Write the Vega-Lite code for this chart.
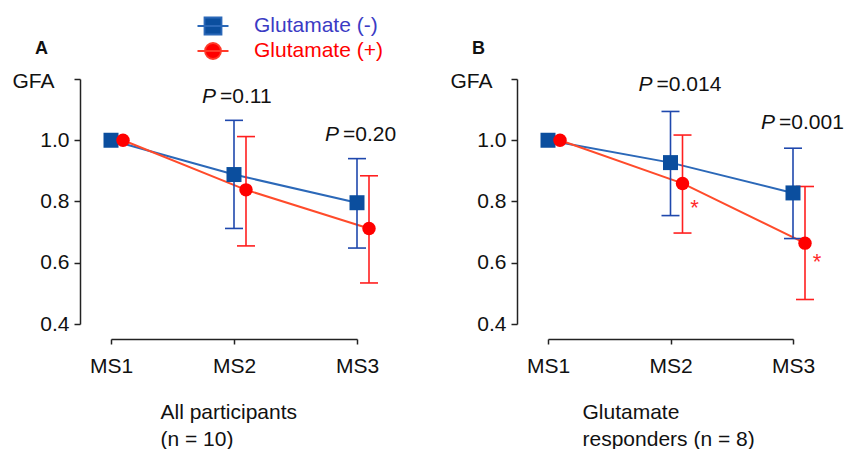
{
  "$schema": "https://vega.github.io/schema/vega-lite/v6.json",
  "background": "white",
  "padding": {"left": 12, "top": 15, "right": 0, "bottom": 0},
  "datasets": {
    "gfa": [
      {"panel": "A", "group": "Glutamate (-)", "ms": "MS1", "mean": 1.0, "lo": null, "hi": null},
      {"panel": "A", "group": "Glutamate (-)", "ms": "MS2", "mean": 0.888, "lo": 0.712, "hi": 1.065},
      {"panel": "A", "group": "Glutamate (-)", "ms": "MS3", "mean": 0.796, "lo": 0.648, "hi": 0.94},
      {"panel": "A", "group": "Glutamate (+)", "ms": "MS1", "mean": 1.0, "lo": null, "hi": null},
      {"panel": "A", "group": "Glutamate (+)", "ms": "MS2", "mean": 0.838, "lo": 0.655, "hi": 1.012},
      {"panel": "A", "group": "Glutamate (+)", "ms": "MS3", "mean": 0.712, "lo": 0.534, "hi": 0.884},
      {"panel": "B", "group": "Glutamate (-)", "ms": "MS1", "mean": 1.0, "lo": null, "hi": null},
      {"panel": "B", "group": "Glutamate (-)", "ms": "MS2", "mean": 0.927, "lo": 0.754, "hi": 1.094},
      {"panel": "B", "group": "Glutamate (-)", "ms": "MS3", "mean": 0.828, "lo": 0.679, "hi": 0.974},
      {"panel": "B", "group": "Glutamate (+)", "ms": "MS1", "mean": 1.0, "lo": null, "hi": null},
      {"panel": "B", "group": "Glutamate (+)", "ms": "MS2", "mean": 0.859, "lo": 0.697, "hi": 1.017},
      {"panel": "B", "group": "Glutamate (+)", "ms": "MS3", "mean": 0.664, "lo": 0.48, "hi": 0.849}
    ],
    "pvals": [
      {"panel": "A", "ms": "MS2", "y": 1.121, "label": "=0.11"},
      {"panel": "A", "ms": "MS3", "y": 0.998, "label": "=0.20"},
      {"panel": "B", "ms": "MS2", "y": 1.161, "label": "=0.014"},
      {"panel": "B", "ms": "MS3", "y": 1.038, "label": "=0.001"}
    ],
    "stars": [
      {"panel": "B", "group": "Glutamate (+)", "ms": "MS2", "y": 0.798},
      {"panel": "B", "group": "Glutamate (+)", "ms": "MS3", "y": 0.623}
    ]
  },
  "bounds": "flush",
  "spacing": 191,
  "resolve": {
    "scale": {"x": "independent", "y": "independent", "fill": "shared"},
    "legend": {"fill": "shared"}
  },
  "hconcat": [
    {
      "width": 246,
      "height": 245,
      "title": {"text": "A"},
      "encoding": {
        "x": {
          "field": "ms", "type": "nominal",
          "scale": {"type": "point", "padding": 0, "domain": ["MS1", "MS2", "MS3"]},
          "axis": {
            "offset": 15, "tickSize": 5, "labelPadding": 11, "labelAngle": 0,
            "title": ["All participants", "(n = 10)"],
            "titleX": 49, "titleY": 79, "titleAlign": "left", "titleBaseline": "alphabetic", "titleLineHeight": 27
          }
        }
      },
      "layer": [
        {
          "data": {"name": "gfa"},
          "transform": [{"filter": "datum.panel === 'A' && datum.group === 'Glutamate (-)'"}],
          "mark": {"type": "line", "strokeWidth": 2, "color": "#2b68b8"},
          "encoding": {
            "y": {
              "field": "mean", "type": "quantitative", "title": "GFA",
              "scale": {"domain": [0.4, 1.2], "nice": false, "zero": false},
              "axis": {
                "offset": 31, "tickSize": 6, "labelPadding": 5,
                "values": [0.4, 0.5, 0.6, 0.7, 0.8, 0.9, 1.0, 1.1, 1.2],
                "labelExpr": "indexof(['0.4','0.6','0.8','1.0'], format(datum.value, '.1f')) >= 0 ? format(datum.value, '.1f') : ''",
                "labelFlush": false, "labelOverlap": false,
                "titleAngle": 0, "titleX": -68, "titleY": 8, "titleAlign": "left", "titleBaseline": "alphabetic"
              }
            }
          }
        },
        {
          "data": {"name": "gfa"},
          "transform": [{"filter": "datum.panel === 'A' && datum.group === 'Glutamate (+)'"}],
          "mark": {"type": "line", "strokeWidth": 2, "color": "#ff4b2b", "xOffset": 12},
          "encoding": {"y": {"field": "mean", "type": "quantitative", "title": "GFA"}}
        },
        {
          "data": {"name": "gfa"},
          "transform": [{"filter": "datum.panel === 'A' && datum.group === 'Glutamate (-)'"}],
          "mark": {"type": "rule", "strokeWidth": 1.6, "color": "#1f48ad"},
          "encoding": {"y": {"field": "lo", "type": "quantitative", "title": "GFA"}, "y2": {"field": "hi"}}
        },
        {
          "data": {"name": "gfa"},
          "transform": [{"filter": "datum.panel === 'A' && datum.group === 'Glutamate (-)'"}],
          "mark": {"type": "tick", "orient": "horizontal", "size": 18, "thickness": 1.6, "opacity": 1, "color": "#1f48ad"},
          "encoding": {"y": {"field": "lo", "type": "quantitative", "title": "GFA"}}
        },
        {
          "data": {"name": "gfa"},
          "transform": [{"filter": "datum.panel === 'A' && datum.group === 'Glutamate (-)'"}],
          "mark": {"type": "tick", "orient": "horizontal", "size": 18, "thickness": 1.6, "opacity": 1, "color": "#1f48ad"},
          "encoding": {"y": {"field": "hi", "type": "quantitative", "title": "GFA"}}
        },
        {
          "data": {"name": "gfa"},
          "transform": [{"filter": "datum.panel === 'A' && datum.group === 'Glutamate (+)'"}],
          "mark": {"type": "rule", "strokeWidth": 1.6, "color": "#ff1f1f", "xOffset": 12},
          "encoding": {"y": {"field": "lo", "type": "quantitative", "title": "GFA"}, "y2": {"field": "hi"}}
        },
        {
          "data": {"name": "gfa"},
          "transform": [{"filter": "datum.panel === 'A' && datum.group === 'Glutamate (+)'"}],
          "mark": {"type": "tick", "orient": "horizontal", "size": 18, "thickness": 1.6, "opacity": 1, "color": "#ff1f1f", "xOffset": 12},
          "encoding": {"y": {"field": "lo", "type": "quantitative", "title": "GFA"}}
        },
        {
          "data": {"name": "gfa"},
          "transform": [{"filter": "datum.panel === 'A' && datum.group === 'Glutamate (+)'"}],
          "mark": {"type": "tick", "orient": "horizontal", "size": 18, "thickness": 1.6, "opacity": 1, "color": "#ff1f1f", "xOffset": 12},
          "encoding": {"y": {"field": "hi", "type": "quantitative", "title": "GFA"}}
        },
        {
          "data": {"name": "gfa"},
          "transform": [{"filter": "datum.panel === 'A' && datum.group === 'Glutamate (-)'"}],
          "mark": {"type": "point", "filled": true, "opacity": 1, "shape": "square", "size": 225},
          "encoding": {
            "y": {"field": "mean", "type": "quantitative", "title": "GFA"},
            "fill": {
              "field": "group", "type": "nominal",
              "scale": {"domain": ["Glutamate (-)", "Glutamate (+)"], "range": ["#0b4e9e", "#ff0000"]},
              "legend": {
                "orient": "none", "legendX": 91, "legendY": -64, "title": null, "direction": "vertical",
                "labelFontSize": 16, "labelFont": "Liberation Sans", "symbolSize": 400, "labelOffset": 30,
                "rowPadding": 0, "padding": 0, "symbolOpacity": 1,
                "encode": {
                  "symbols": {"update": {
                    "shape": {"signal": "datum.value === 'Glutamate (-)' ? 'M-1.55,0H1.55M-0.85,-0.85H0.85V0.85H-0.85Z' : 'M-1.55,0H1.55M0.8,0A0.8,0.8,0,1,1,-0.8,0A0.8,0.8,0,1,1,0.8,0Z'"},
                    "stroke": {"signal": "datum.value === 'Glutamate (-)' ? '#2b68b8' : '#ff3b2b'"},
                    "fill": {"signal": "datum.value === 'Glutamate (-)' ? '#0b4e9e' : '#ff0000'"},
                    "strokeWidth": {"value": 1.8}
                  }},
                  "labels": {"update": {
                    "fill": {"signal": "datum.value === 'Glutamate (-)' ? '#3b3bc4' : '#ff0000'"},
                    "fontSize": {"value": 21}
                  }}
                }
              }
            }
          }
        },
        {
          "data": {"name": "gfa"},
          "transform": [{"filter": "datum.panel === 'A' && datum.group === 'Glutamate (+)'"}],
          "mark": {"type": "point", "filled": true, "opacity": 1, "shape": "circle", "size": 180, "xOffset": 12},
          "encoding": {
            "y": {"field": "mean", "type": "quantitative", "title": "GFA"},
            "fill": {"field": "group", "type": "nominal"}
          }
        },
        {
          "data": {"name": "pvals"},
          "transform": [{"filter": "datum.panel === 'A'"}],
          "mark": {"type": "text", "text": "P", "fontStyle": "italic", "fontSize": 21, "font": "Liberation Sans", "align": "right", "baseline": "alphabetic", "dx": -18, "color": "#111"},
          "encoding": {"y": {"field": "y", "type": "quantitative", "title": "GFA"}}
        },
        {
          "data": {"name": "pvals"},
          "transform": [{"filter": "datum.panel === 'A'"}],
          "mark": {"type": "text", "fontSize": 21, "font": "Liberation Sans", "align": "left", "baseline": "alphabetic", "dx": -14, "color": "#111"},
          "encoding": {"y": {"field": "y", "type": "quantitative", "title": "GFA"}, "text": {"field": "label"}}
        }
      ]
    },
    {
      "width": 245,
      "height": 245,
      "title": {"text": "B"},
      "encoding": {
        "x": {
          "field": "ms", "type": "nominal",
          "scale": {"type": "point", "padding": 0, "domain": ["MS1", "MS2", "MS3"]},
          "axis": {
            "offset": 15, "tickSize": 5, "labelPadding": 11, "labelAngle": 0,
            "title": ["Glutamate", "responders (n = 8)"],
            "titleX": 34, "titleY": 79, "titleAlign": "left", "titleBaseline": "alphabetic", "titleLineHeight": 27
          }
        }
      },
      "layer": [
        {
          "data": {"name": "gfa"},
          "transform": [{"filter": "datum.panel === 'B' && datum.group === 'Glutamate (-)'"}],
          "mark": {"type": "line", "strokeWidth": 2, "color": "#2b68b8"},
          "encoding": {
            "y": {
              "field": "mean", "type": "quantitative", "title": "GFA",
              "scale": {"domain": [0.4, 1.2], "nice": false, "zero": false},
              "axis": {
                "offset": 31, "tickSize": 6, "labelPadding": 5,
                "values": [0.4, 0.5, 0.6, 0.7, 0.8, 0.9, 1.0, 1.1, 1.2],
                "labelExpr": "indexof(['0.4','0.6','0.8','1.0'], format(datum.value, '.1f')) >= 0 ? format(datum.value, '.1f') : ''",
                "labelFlush": false, "labelOverlap": false,
                "titleAngle": 0, "titleX": -67, "titleY": 8, "titleAlign": "left", "titleBaseline": "alphabetic"
              }
            }
          }
        },
        {
          "data": {"name": "gfa"},
          "transform": [{"filter": "datum.panel === 'B' && datum.group === 'Glutamate (+)'"}],
          "mark": {"type": "line", "strokeWidth": 2, "color": "#ff4b2b", "xOffset": 12},
          "encoding": {"y": {"field": "mean", "type": "quantitative", "title": "GFA"}}
        },
        {
          "data": {"name": "gfa"},
          "transform": [{"filter": "datum.panel === 'B' && datum.group === 'Glutamate (-)'"}],
          "mark": {"type": "rule", "strokeWidth": 1.6, "color": "#1f48ad"},
          "encoding": {"y": {"field": "lo", "type": "quantitative", "title": "GFA"}, "y2": {"field": "hi"}}
        },
        {
          "data": {"name": "gfa"},
          "transform": [{"filter": "datum.panel === 'B' && datum.group === 'Glutamate (-)'"}],
          "mark": {"type": "tick", "orient": "horizontal", "size": 18, "thickness": 1.6, "opacity": 1, "color": "#1f48ad"},
          "encoding": {"y": {"field": "lo", "type": "quantitative", "title": "GFA"}}
        },
        {
          "data": {"name": "gfa"},
          "transform": [{"filter": "datum.panel === 'B' && datum.group === 'Glutamate (-)'"}],
          "mark": {"type": "tick", "orient": "horizontal", "size": 18, "thickness": 1.6, "opacity": 1, "color": "#1f48ad"},
          "encoding": {"y": {"field": "hi", "type": "quantitative", "title": "GFA"}}
        },
        {
          "data": {"name": "gfa"},
          "transform": [{"filter": "datum.panel === 'B' && datum.group === 'Glutamate (+)'"}],
          "mark": {"type": "rule", "strokeWidth": 1.6, "color": "#ff1f1f", "xOffset": 12},
          "encoding": {"y": {"field": "lo", "type": "quantitative", "title": "GFA"}, "y2": {"field": "hi"}}
        },
        {
          "data": {"name": "gfa"},
          "transform": [{"filter": "datum.panel === 'B' && datum.group === 'Glutamate (+)'"}],
          "mark": {"type": "tick", "orient": "horizontal", "size": 18, "thickness": 1.6, "opacity": 1, "color": "#ff1f1f", "xOffset": 12},
          "encoding": {"y": {"field": "lo", "type": "quantitative", "title": "GFA"}}
        },
        {
          "data": {"name": "gfa"},
          "transform": [{"filter": "datum.panel === 'B' && datum.group === 'Glutamate (+)'"}],
          "mark": {"type": "tick", "orient": "horizontal", "size": 18, "thickness": 1.6, "opacity": 1, "color": "#ff1f1f", "xOffset": 12},
          "encoding": {"y": {"field": "hi", "type": "quantitative", "title": "GFA"}}
        },
        {
          "data": {"name": "gfa"},
          "transform": [{"filter": "datum.panel === 'B' && datum.group === 'Glutamate (-)'"}],
          "mark": {"type": "point", "filled": true, "opacity": 1, "shape": "square", "size": 225},
          "encoding": {
            "y": {"field": "mean", "type": "quantitative", "title": "GFA"},
            "fill": {"field": "group", "type": "nominal"}
          }
        },
        {
          "data": {"name": "gfa"},
          "transform": [{"filter": "datum.panel === 'B' && datum.group === 'Glutamate (+)'"}],
          "mark": {"type": "point", "filled": true, "opacity": 1, "shape": "circle", "size": 180, "xOffset": 12},
          "encoding": {
            "y": {"field": "mean", "type": "quantitative", "title": "GFA"},
            "fill": {"field": "group", "type": "nominal"}
          }
        },
        {
          "data": {"name": "stars"},
          "transform": [{"filter": "datum.panel === 'B'"}],
          "mark": {"type": "text", "text": "*", "fontSize": 22, "font": "Liberation Sans", "align": "center", "baseline": "middle", "dx": 24, "dy": 6, "color": "#ff2a2a"},
          "encoding": {"y": {"field": "y", "type": "quantitative", "title": "GFA"}}
        },
        {
          "data": {"name": "pvals"},
          "transform": [{"filter": "datum.panel === 'B'"}],
          "mark": {"type": "text", "text": "P", "fontStyle": "italic", "fontSize": 21, "font": "Liberation Sans", "align": "right", "baseline": "alphabetic", "dx": -18, "color": "#111"},
          "encoding": {"y": {"field": "y", "type": "quantitative", "title": "GFA"}}
        },
        {
          "data": {"name": "pvals"},
          "transform": [{"filter": "datum.panel === 'B'"}],
          "mark": {"type": "text", "fontSize": 21, "font": "Liberation Sans", "align": "left", "baseline": "alphabetic", "dx": -14, "color": "#111"},
          "encoding": {"y": {"field": "y", "type": "quantitative", "title": "GFA"}, "text": {"field": "label"}}
        }
      ]
    }
  ],
  "config": {
    "font": "Liberation Sans",
    "view": {"stroke": null},
    "axis": {
      "grid": false, "domainColor": "#222", "tickColor": "#222", "labelColor": "#111", "titleColor": "#111",
      "labelFont": "Liberation Sans", "titleFont": "Liberation Sans", "labelFontSize": 21, "titleFontSize": 21,
      "titleFontWeight": "normal", "domainWidth": 1.5, "tickWidth": 1.5
    },
    "title": {
      "anchor": "start", "frame": "group", "fontSize": 18, "fontWeight": "bold", "font": "Liberation Sans",
      "color": "#111", "dx": -76, "offset": 10, "baseline": "alphabetic"
    },
    "legend": {"symbolStrokeWidth": 1.8}
  }
}
